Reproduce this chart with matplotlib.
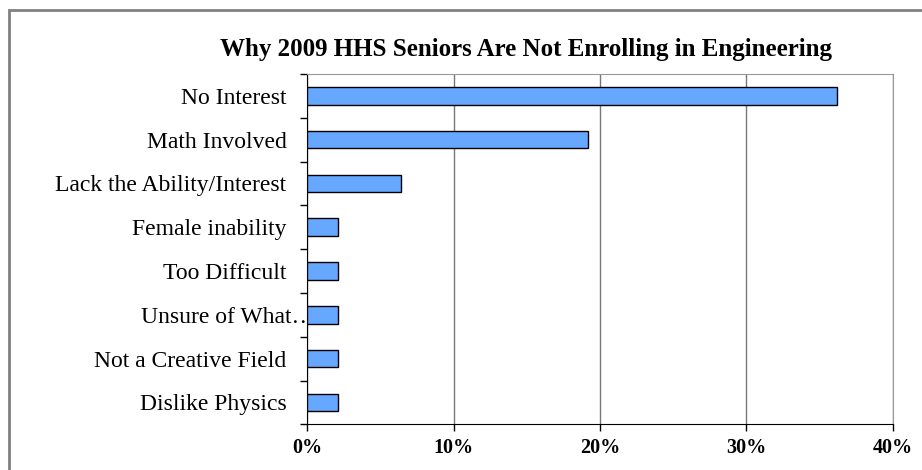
import matplotlib.pyplot as plt
from matplotlib.patches import Rectangle
from matplotlib.ticker import FixedLocator, FuncFormatter
from matplotlib.transforms import ScaledTranslation

# survey data (percent of seniors)
reasons = ["No Interest", "Math Involved", "Lack the Ability/Interest",
           "Female inability", "Too Difficult", "Unsure of What\u2026",
           "Not a Creative Field", "Dislike Physics"]
percent = [36.17, 19.15, 6.38, 2.13, 2.13, 2.13, 2.13, 2.13]
x_ticks = [0, 10, 20, 30, 40]

plt.rcParams['font.family'] = ['Liberation Serif', 'DejaVu Serif']

fig = plt.figure(figsize=(9.22, 4.70), dpi=100)
ax = fig.add_axes([0.3333, 0.0972, 0.6349, 0.7454])

# outer chart frame
fig.patches.append(Rectangle((8.5 / 922, -0.1), 1.2, 1 - 10.5 / 470 + 0.1,
                             transform=fig.transFigure, fill=False,
                             edgecolor='#808080', linewidth=2))

ypos = list(range(len(reasons)))[::-1]
ax.barh(ypos, percent, height=0.4, color='#66a8ff', edgecolor='black',
        linewidth=1, zorder=3)

ax.set_xlim(0, 40)
ax.set_ylim(-0.5, len(reasons) - 0.5)

ax.xaxis.set_major_locator(FixedLocator(x_ticks))
ax.xaxis.set_major_formatter(FuncFormatter(lambda v, p: f"{v:.0f}%"))
ax.grid(axis='x', color='#777777', linewidth=1, zorder=0)

ax.set_yticks(ypos)
ax.set_yticklabels(reasons, fontsize=17)
ax.set_yticks([i + 0.5 for i in range(-1, len(reasons))], minor=True)
ax.tick_params(axis='y', which='major', length=0, pad=15)
ax.tick_params(axis='y', which='minor', length=5, width=1, direction='out')
ax.tick_params(axis='x', length=5, width=1, pad=5, labelsize=14.5)
for lbl in ax.get_xticklabels():
    lbl.set_fontweight('bold')

# truncated label runs over the axis in the original
lbl = ax.get_yticklabels()[reasons.index("Unsure of What\u2026")]
lbl.set_transform(lbl.get_transform() + ScaledTranslation(0.29, 0, fig.dpi_scale_trans))

ax.spines['left'].set_color('black')
ax.spines['bottom'].set_color('black')
ax.spines['top'].set_color('#999999')
ax.spines['right'].set_color('#999999')

fig.text(0.5705, 0.895, "Why 2009 HHS Seniors Are Not Enrolling in Engineering",
         ha='center', va='center', fontsize=18, fontweight='bold')

fig.savefig('out.png', dpi=100)
